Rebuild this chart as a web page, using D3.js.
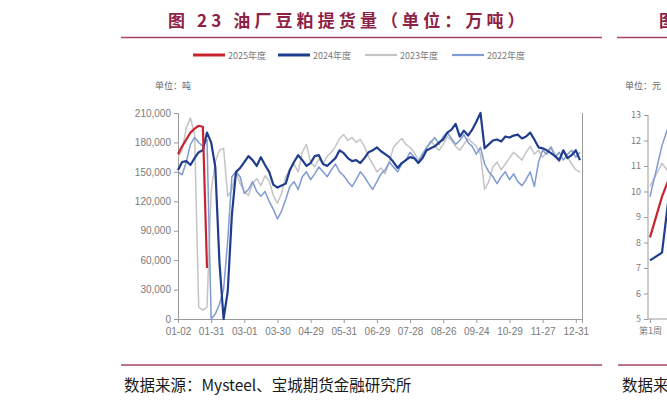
<!DOCTYPE html>
<html><head><meta charset="utf-8">
<script src="https://cdn.jsdelivr.net/npm/d3@7/dist/d3.min.js"></script>
<style>
body{margin:0;background:#fff;}
svg{display:block;}
</style></head>
<body>
<svg id="c" width="667" height="401"></svg>
<script>
// ---------- DATA (values in thousand tonnes, x = sample index) ----------
const xTickIdx = [0, 8, 16, 24, 32, 40, 48, 56, 64, 72, 80, 88, 96];
const xTickLabels = ["01-02","01-31","03-01","03-30","04-29","05-31","06-29","07-28","08-26","09-24","10-29","11-27","12-31"];
const yTicks = [0, 30000, 60000, 90000, 120000, 150000, 180000, 210000];
const seriesNames = ["2025年度","2024年度","2023年度","2022年度"];

const s2025 = [168,176,183,190,194,197,196,52];
const s2024 = [152,160,161,157,164,170,172,190,180,155,58,0,28,106,150,154,160,166,162,156,165,157,150,137,134,136,138,152,160,167,162,156,159,166,167,158,156,160,164,172,169,164,161,162,159,164,170,172,175,171,168,165,160,154,159,162,165,164,159,164,172,174,176,180,183,190,193,199,186,192,187,193,201,210,174,178,182,183,181,186,185,187,188,184,186,190,183,175,174,172,169,166,162,172,164,167,172,162];
const s2023 = [165,172,195,205,188,12,9,12,130,160,172,174,125,132,150,138,130,126,138,143,136,146,141,126,118,128,145,152,158,150,170,178,160,155,163,158,166,170,176,184,188,182,185,180,183,176,165,158,150,154,148,160,175,180,184,178,175,170,162,168,174,182,176,172,178,186,182,176,172,178,184,180,176,168,132,140,155,160,152,158,164,170,166,162,170,176,168,172,165,170,176,168,160,172,165,158,152,150];
const s2022 = [150,147,160,178,185,180,176,183,0,5,15,30,80,145,150,145,128,132,140,130,125,130,120,112,102,110,122,135,140,132,145,150,142,148,155,150,145,152,158,150,146,140,135,142,150,145,138,132,140,148,152,160,155,150,158,162,170,165,160,168,175,180,185,178,186,190,184,178,182,188,180,176,168,175,158,150,145,138,145,150,142,148,140,136,142,150,135,160,172,168,175,165,170,162,168,172,165,170];

// partial neighbouring chart (price, yuan) visible at right edge
const rYTicks = [5,6,7,8,9,10,11,12,13];
const rXLabels = ["第1周"];
const r2025 = [8.2, 9.8, 11.0];
const r2024 = [7.3, 7.6, 11.5];
const r2023 = [10.2, 11.1, 10.5];
const r2022 = [9.8, 11.8, 13.2];

// ---------- DRAW ----------
const svg = d3.select("#c");
const maroon = "#8e2146";
const colors = ["#c8242d", "#1f3c8e", "#c4c4c4", "#7f9bd2"];
const widths = [2.2, 2.2, 1.5, 1.5];
const axisColor = "#9a9a9a";
const labelColor = "#7a7a7a";

// title
svg.append("text").attr("x",168).attr("y",27)
  .attr("font-family","'Noto Sans CJK SC'").attr("font-weight","bold")
  .attr("font-size",17).attr("letter-spacing",4.1).attr("fill",maroon)
  .text("图 23 油厂豆粕提货量（单位：万吨）");
svg.append("text").attr("x",659).attr("y",27)
  .attr("font-family","'Noto Sans CJK SC'").attr("font-weight","bold")
  .attr("font-size",17).attr("fill",maroon).text("图");
svg.append("line").attr("x1",121).attr("x2",602).attr("y1",37.5).attr("y2",37.5).attr("stroke","#a54466").attr("stroke-width",1.5);
svg.append("line").attr("x1",617).attr("x2",667).attr("y1",37.5).attr("y2",37.5).attr("stroke","#a54466").attr("stroke-width",1.5);
svg.append("line").attr("x1",121).attr("x2",602).attr("y1",365).attr("y2",365).attr("stroke","#a54466").attr("stroke-width",1.5);
svg.append("line").attr("x1",618).attr("x2",667).attr("y1",365).attr("y2",365).attr("stroke","#a54466").attr("stroke-width",1.5);

// source
svg.append("text").attr("x",124).attr("y",391)
  .attr("font-family","'Noto Sans CJK SC'").attr("font-size",15.5).attr("fill","#1a1a1a")
  .text("数据来源：Mysteel、宝城期货金融研究所");
svg.append("text").attr("x",622).attr("y",391)
  .attr("font-family","'Noto Sans CJK SC'").attr("font-size",15.5).attr("fill","#1a1a1a")
  .text("数据来源");

// legend
const legX = [193, 278, 365, 452];
seriesNames.forEach((n,i)=>{
  svg.append("line").attr("x1",legX[i]).attr("x2",legX[i]+32).attr("y1",55).attr("y2",55)
    .attr("stroke",colors[i]).attr("stroke-width", i<2?3:2.2);
  svg.append("text").attr("x",legX[i]+35).attr("y",58.5)
    .attr("font-family","'Noto Sans CJK SC'").attr("font-size",9).attr("fill",labelColor).text(n);
});

// unit
svg.append("text").attr("x",155).attr("y",89)
  .attr("font-family","'Noto Sans CJK SC'").attr("font-size",9).attr("fill","#666").text("单位：吨");

// scales
const x = d3.scaleLinear().domain([0, 97.5]).range([178, 582]);
const y = d3.scaleLinear().domain([0, 210000]).range([319, 113]);

const fontNum = "'Liberation Sans', Arial, sans-serif";

const yAxis = svg.append("g").attr("transform","translate(178,0)")
  .call(d3.axisLeft(y).tickValues(yTicks).tickFormat(d3.format(",")).tickSize(4).tickPadding(3));
const xAxis = svg.append("g").attr("transform","translate(0,319)")
  .call(d3.axisBottom(x).tickValues(xTickIdx).tickFormat((d,i)=>xTickLabels[i]).tickSize(4).tickPadding(5));
[yAxis,xAxis].forEach(g=>{
  g.selectAll("path,line").attr("stroke",axisColor);
  g.selectAll("text").attr("fill",labelColor).attr("font-family",fontNum).attr("font-size",10);
});
// right border
svg.append("line").attr("x1",582.5).attr("x2",582.5).attr("y1",y(210000)).attr("y2",319).attr("stroke",axisColor);

const line = d3.line().x((d,i)=>x(i)).y(d=>y(d*1000));
const draw = [[s2023,2],[s2022,3],[s2024,1],[s2025,0]];
draw.forEach(([s,ci])=>{
  svg.append("path").attr("d",line(s)).attr("fill","none")
    .attr("stroke",colors[ci]).attr("stroke-width",widths[ci]).attr("stroke-linejoin","round");
});

// ---- partial right chart ----
const rx = d3.scaleLinear().domain([0,1]).range([650, 662]);
const ry = d3.scaleLinear().domain([5,13]).range([319, 115]);
svg.append("text").attr("x",625).attr("y",89)
  .attr("font-family","'Noto Sans CJK SC'").attr("font-size",9).attr("fill","#666").text("单位：元");
const rYA = svg.append("g").attr("transform","translate(648,0)")
  .call(d3.axisLeft(ry).tickValues(rYTicks).tickSize(4).tickPadding(3));
const rXA = svg.append("g").attr("transform","translate(0,319)")
  .call(d3.axisBottom(rx).tickValues([0]).tickFormat((d,i)=>rXLabels[i]).tickSize(4).tickPadding(5));
rYA.select(".domain").attr("d","M0,115V319");
rXA.select(".domain").attr("d","M648,0H667");
[rYA,rXA].forEach(g=>{
  g.selectAll("path,line").attr("stroke",axisColor);
  g.selectAll("text").attr("fill",labelColor).attr("font-family","'Noto Sans CJK SC'").attr("font-size",9);
});
const rline = d3.line().x((d,i)=>rx(i)).y(d=>ry(d));
[[r2023,2],[r2022,3],[r2024,1],[r2025,0]].forEach(([s,ci])=>{
  svg.append("path").attr("d",rline(s)).attr("fill","none")
    .attr("stroke",colors[ci]).attr("stroke-width",widths[ci]);
});
</script>
</body></html>
